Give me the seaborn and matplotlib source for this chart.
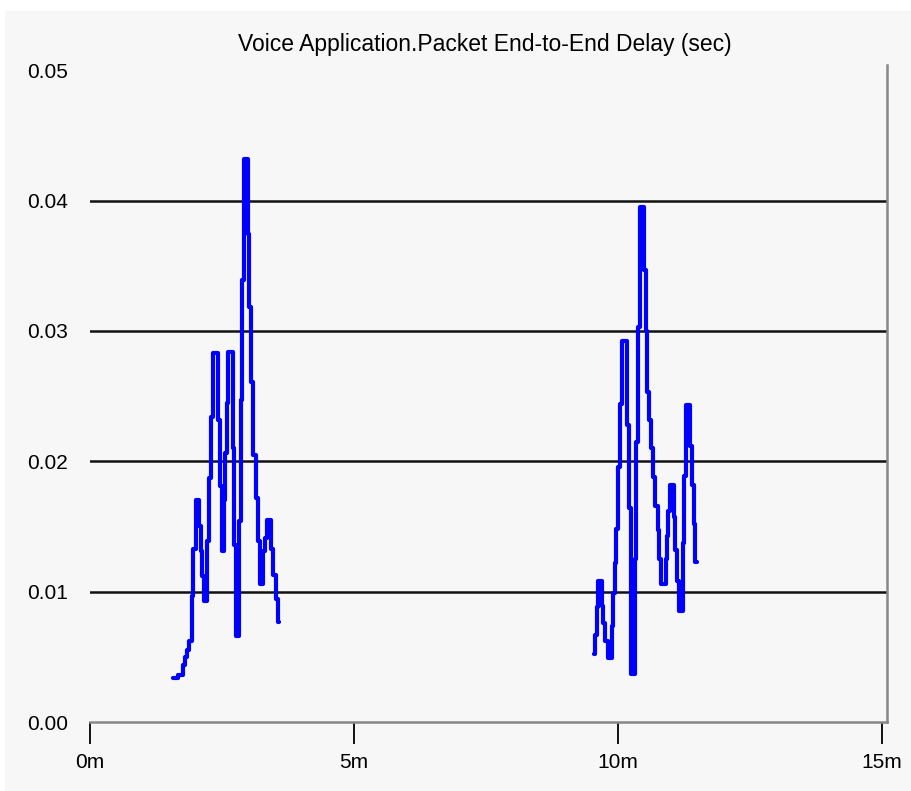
import matplotlib
matplotlib.use("Agg")
import matplotlib.pyplot as plt
import seaborn as sns
import pandas as pd
from matplotlib.patches import Rectangle

# ---- data (time in minutes, delay in seconds) ----
burst1_time = [1.572, 1.667, 1.761, 1.799, 1.837, 1.875, 1.932, 1.956, 2.002, 2.064,
               2.102, 2.127, 2.165, 2.222, 2.259, 2.292, 2.324, 2.430, 2.462, 2.494,
               2.538, 2.563, 2.589, 2.619, 2.703, 2.733, 2.765, 2.828, 2.854, 2.879,
               2.917, 2.987, 3.011, 3.049, 3.093, 3.138, 3.176, 3.220, 3.282, 3.314,
               3.347, 3.428, 3.472, 3.517, 3.555, 3.585]
burst1_delay = [0.0034, 0.0036, 0.0044, 0.0050, 0.0055, 0.0062, 0.0097, 0.0133, 0.0170, 0.0150,
                0.0131, 0.0112, 0.0093, 0.0139, 0.0187, 0.0234, 0.0283, 0.0232, 0.0181, 0.0131,
                0.0170, 0.0206, 0.0245, 0.0284, 0.0210, 0.0136, 0.0066, 0.0154, 0.0247, 0.0339,
                0.0432, 0.0374, 0.0318, 0.0261, 0.0205, 0.0172, 0.0139, 0.0106, 0.0131, 0.0141,
                0.0155, 0.0133, 0.0113, 0.0094, 0.0077, 0.0077]

burst2_time = [9.545, 9.570, 9.602, 9.627, 9.691, 9.722, 9.759, 9.805, 9.881, 9.911,
               9.938, 9.962, 10.006, 10.038, 10.076, 10.165, 10.208, 10.241, 10.322, 10.347,
               10.373, 10.417, 10.498, 10.530, 10.555, 10.587, 10.625, 10.669, 10.706, 10.752,
               10.782, 10.814, 10.909, 10.934, 10.953, 10.979, 11.061, 11.085, 11.112, 11.150,
               11.225, 11.256, 11.288, 11.364, 11.396, 11.434, 11.464, 11.496]
burst2_delay = [0.0052, 0.0067, 0.0088, 0.0108, 0.0089, 0.0076, 0.0062, 0.0049, 0.0074, 0.0099,
                0.0122, 0.0148, 0.0196, 0.0244, 0.0292, 0.0228, 0.0164, 0.0037, 0.0125, 0.0215,
                0.0303, 0.0395, 0.0347, 0.0300, 0.0253, 0.0232, 0.0210, 0.0188, 0.0166, 0.0147,
                0.0125, 0.0106, 0.0125, 0.0143, 0.0162, 0.0182, 0.0157, 0.0132, 0.0108, 0.0085,
                0.0137, 0.0189, 0.0243, 0.0212, 0.0182, 0.0152, 0.0123, 0.0123]

x_ticks = [0, 5, 10, 15]
x_tick_labels = ["0m", "5m", "10m", "15m"]
y_ticks = [0.00, 0.01, 0.02, 0.03, 0.04, 0.05]
y_tick_labels = ["0.00", "0.01", "0.02", "0.03", "0.04", "0.05"]
title = "Voice Application.Packet End-to-End Delay (sec)"

# ---- style ----
sns.set_style("white")
bg = "#f7f7f7"
plt.rcParams["font.family"] = ["Liberation Sans", "DejaVu Sans"]
plt.rcParams["text.color"] = "black"
plt.rcParams["xtick.color"] = "black"
plt.rcParams["ytick.color"] = "black"

W, H = 912, 791
fig = plt.figure(figsize=(W / 100, H / 100), dpi=100, facecolor="white")
fig.patches.append(Rectangle((5 / W, 0), 1 - 5 / W, 1 - 11 / H, transform=fig.transFigure,
                             facecolor=bg, edgecolor="none", zorder=-10))

left, right, bottom, top = 90, 887, 722, 65
ax = fig.add_axes([left / W, (H - bottom) / H, (right - left) / W, (bottom - top) / H])
ax.set_facecolor(bg)
ax.patch.set_alpha(0)

df1 = pd.DataFrame({"t": burst1_time, "d": burst1_delay})
df2 = pd.DataFrame({"t": burst2_time, "d": burst2_delay})
for df in (df1, df2):
    sns.lineplot(data=df, x="t", y="d", ax=ax, color="#0000ff", lw=3.0,
                 drawstyle="steps-post", estimator=None, zorder=5)

ax.set_xlim(0, 15.095)
ax.set_ylim(0, 0.0504)

ax.set_xticks(x_ticks)
ax.set_xticklabels(x_tick_labels, fontsize=15)
ax.set_yticks(y_ticks)
ax.set_yticklabels(y_tick_labels, fontsize=15, ha="left")
ax.tick_params(axis="x", bottom=True, direction="out", length=16, width=1.3,
               color="black", pad=6)
ax.tick_params(axis="y", left=False, length=0, pad=45)
ax.set_xlabel("")
ax.set_ylabel("")

ax.grid(axis="y", color="#111111", lw=1.8)
ax.grid(axis="x", visible=False)
glines = ax.yaxis.get_gridlines()
glines[0].set_visible(False)
glines[-1].set_visible(False)
ax.set_axisbelow(True)

for s in ("left", "top"):
    ax.spines[s].set_visible(False)
for s in ("bottom", "right"):
    ax.spines[s].set_color("#888888")
    ax.spines[s].set_linewidth(1.8)

fig.text(485 / W, 1 - 45 / H, title, ha="center", va="center", fontsize=16.5)

fig.savefig("out.png", dpi=100, facecolor="white")
